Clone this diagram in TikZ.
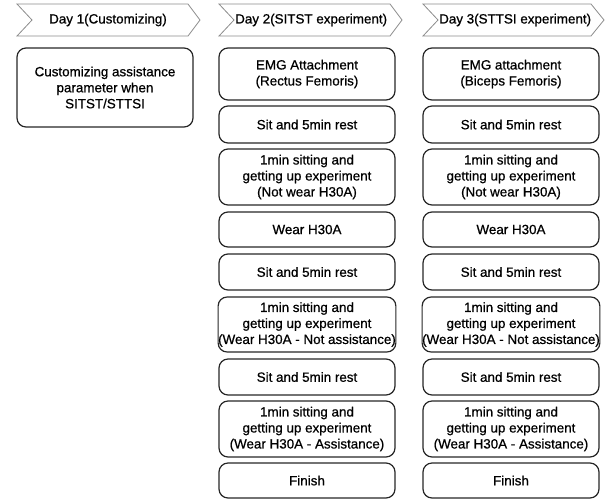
\documentclass[tikz,border=0pt]{standalone}
\usepackage{fontspec}
\setmainfont{Liberation Sans}
\newfontfamily\boxfont{Liberation Sans}[FakeBold=0.7]
\begin{document}
\begin{tikzpicture}[x=1pt,y=-1pt,
  chev/.style={draw=black!45, line width=0.8pt, fill=white},
  daytext/.style={inner sep=0pt, font=\boxfont\fontsize{13.4}{16}\selectfont, text=black},
  box/.style={draw=black!85, line width=1.2pt, rounded corners=9pt, align=center,
    inner sep=0pt, minimum width=176pt, font=\boxfont\fontsize{13.4}{16}\selectfont, text=black}]
\useasboundingbox (0,0) rectangle (605,499);
% chevrons
\draw[chev] (17,4) -- (188,4) -- (200,20) -- (188,36) -- (17,36) -- (32,20) -- cycle;
\draw[chev] (219,4) -- (390,4) -- (402,20) -- (390,36) -- (219,36) -- (234,20) -- cycle;
\draw[chev] (423,4) -- (591,4) -- (604,20) -- (591,36) -- (423,36) -- (438,20) -- cycle;
\node[daytext] (day1) at (108,20) {Day 1(Customizing)};
\node[daytext, anchor=west] (day2) at (235,20) {Day 2(SITST experiment)};
\node[daytext, anchor=west] (day3) at (439,20) {Day 3(STTSI experiment)};
% day 1 box
\node[box, minimum height=79pt] (d1) at (105,87.5) {Customizing assistance\\parameter when\\SITST/STTSI};
% column 2
\node[box, minimum height=52pt] (b1) at (307,74) {EMG Attachment\\(Rectus Femoris)};
\node[box, minimum height=37pt] (b2) at (307,124.5) {Sit and 5min rest};
\node[box, minimum height=56pt] (b3) at (307,177) {1min sitting and\\getting up experiment\\(Not wear H30A)};
\node[box, minimum height=35pt] (b4) at (307,229.5) {Wear H30A};
\node[box, minimum height=36pt] (b5) at (307,272) {Sit and 5min rest};
\node[box, minimum height=55pt] (b6) at (307,324.5) {1min sitting and\\getting up experiment\\(Wear H30A - Not assistance)};
\node[box, minimum height=36pt] (b7) at (307,377) {Sit and 5min rest};
\node[box, minimum height=56pt] (b8) at (307,429) {1min sitting and\\getting up experiment\\(Wear H30A - Assistance)};
\node[box, minimum height=35pt] (b9) at (307,480.5) {Finish};
% column 3
\node[box, minimum height=52pt] (c1) at (511,74) {EMG attachment\\(Biceps Femoris)};
\node[box, minimum height=37pt] (c2) at (511,124.5) {Sit and 5min rest};
\node[box, minimum height=56pt] (c3) at (511,177) {1min sitting and\\getting up experiment\\(Not wear H30A)};
\node[box, minimum height=35pt] (c4) at (511,229.5) {Wear H30A};
\node[box, minimum height=36pt] (c5) at (511,272) {Sit and 5min rest};
\node[box, minimum height=55pt] (c6) at (511,324.5) {1min sitting and\\getting up experiment\\(Wear H30A - Not assistance)};
\node[box, minimum height=36pt] (c7) at (511,377) {Sit and 5min rest};
\node[box, minimum height=56pt] (c8) at (511,429) {1min sitting and\\getting up experiment\\(Wear H30A - Assistance)};
\node[box, minimum height=35pt] (c9) at (511,480.5) {Finish};
\end{tikzpicture}
\end{document}
